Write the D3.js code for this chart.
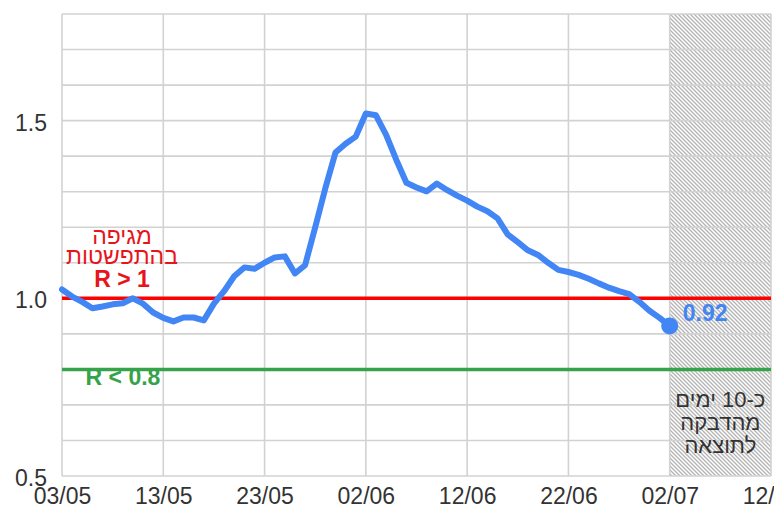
<!DOCTYPE html>
<html>
<head>
<meta charset="utf-8">
<script src="https://cdn.jsdelivr.net/npm/d3@7"></script>
<style>
  body { margin: 0; background: #fff; }
  svg { display: block; font-family: "Liberation Sans", Arial, sans-serif; }
</style>
</head>
<body>
<div id="chart"></div>
<script>
// R values, one per day starting 03/05
var startDate = "03/05/2020"
var rValues = [
  1.025, 1.005, 0.99, 0.972, 0.977, 0.983, 0.986, 1.0, 0.985, 0.96,
  0.945, 0.935, 0.946, 0.946, 0.938, 0.985, 1.02, 1.062, 1.087, 1.083,
  1.1, 1.115, 1.118, 1.07, 1.093, 1.2, 1.31, 1.41, 1.435, 1.455,
  1.52, 1.515, 1.46, 1.39, 1.325, 1.312, 1.301, 1.323, 1.305, 1.289,
  1.275, 1.258, 1.245, 1.225, 1.18, 1.158, 1.135, 1.122, 1.1, 1.08,
  1.074, 1.066, 1.055, 1.042, 1.03, 1.02, 1.012, 0.99, 0.965, 0.945,
  0.922
]
var xTickLabels = ["03/05", "13/05", "23/05", "02/06", "12/06", "22/06", "02/07", "12/07"]
var yTickValues = [0.5, 1.0, 1.5]
var yGridValues = [0.5, 0.6, 0.7, 0.8, 0.9, 1.0, 1.1, 1.2, 1.3, 1.4, 1.5, 1.6, 1.7, 1.8]
var thresholdHigh = 1.0
var thresholdLow = 0.8
var delayStart = "02/07"
var delayEnd = "12/07"
var highLabel = ["מגיפה", "בהתפשטות", "R > 1"]
var lowLabel = "R < 0.8"
var delayLabel = ["כ-10 ימים", "מהדבקה", "לתוצאה"]

var width = 774
var height = 509
var m_left = 62, m_right = 771, m_top = 14, m_bottom = 476

var parseDay = d3.utcParse("%d/%m/%Y")
var start = parseDay(startDate)
var data = rValues.map((v, i) => ({ date: d3.utcDay.offset(start, i), r: v }))
var tickDates = xTickLabels.map((t) => parseDay(t + "/2020"))

var x = d3.scaleUtc()
    .domain([tickDates[0], tickDates[tickDates.length - 1]])
    .range([m_left, m_right])

var y = d3.scaleLinear()
    .domain([0.5, 1.8])
    .range([m_bottom, m_top])

const svg = d3.select("#chart")
    .append("svg")
    .attr("width", width)
    .attr("height", height)

// hatch pattern for the delay area
var defs = svg.append("defs")
var pat = defs.append("pattern")
    .attr("id", "hatch")
    .attr("patternUnits", "userSpaceOnUse")
    .attr("width", 4)
    .attr("height", 4)
pat.append("rect").attr("width", 4).attr("height", 4).attr("fill", "#fff")
pat.append("path")
    .attr("d", "M-1,3 l2,2 M0,0 l4,4 M3,-1 l2,2")
    .attr("stroke", "#b3b3b3")
    .attr("stroke-width", 1.3)

var d0 = parseDay(delayStart + "/2020"), d1 = parseDay(delayEnd + "/2020")
svg.append("rect")
    .attr("x", x(d0))
    .attr("y", y(1.8))
    .attr("width", x(d1) - x(d0))
    .attr("height", y(0.5) - y(1.8))
    .attr("fill", "url(#hatch)")

// grid
svg.append("g")
    .selectAll("line")
    .data(yGridValues)
    .join("line")
    .attr("x1", m_left)
    .attr("x2", m_right)
    .attr("y1", (d) => y(d))
    .attr("y2", (d) => y(d))
    .attr("stroke", "#d2d2d2")
    .attr("stroke-width", 1.6)

svg.append("g")
    .selectAll("line")
    .data(tickDates)
    .join("line")
    .attr("x1", (d) => x(d))
    .attr("x2", (d) => x(d))
    .attr("y1", m_top)
    .attr("y2", m_bottom)
    .attr("stroke", "#d2d2d2")
    .attr("stroke-width", 1.6)

// axes labels (no domain / ticks, just text)
var x_axis = d3.axisBottom(x)
    .tickValues(tickDates)
    .tickFormat(d3.utcFormat("%d/%m"))
    .tickSize(0)
    .tickPadding(12)

var gx = svg.append("g")
    .attr("transform", "translate(0," + m_bottom + ")")
    .call(x_axis)
gx.select(".domain").remove()
gx.selectAll("text")
    .attr("font-size", 23)
    .attr("font-family", "Liberation Sans, Arial, sans-serif")
    .attr("fill", "#333")

var y_axis = d3.axisLeft(y)
    .tickValues(yTickValues)
    .tickFormat(d3.format(".1f"))
    .tickSize(0)
    .tickPadding(15)

var gy = svg.append("g")
    .attr("transform", "translate(" + m_left + ",0)")
    .call(y_axis)
gy.select(".domain").remove()
gy.selectAll("text")
    .attr("font-size", 23)
    .attr("font-family", "Liberation Sans, Arial, sans-serif")
    .attr("fill", "#333")
    .attr("dy", "0.42em")

// threshold labels
var hl = svg.append("g").attr("text-anchor", "middle").attr("fill", "#e8141b")
hl.append("text").attr("x", 122).attr("y", 244).attr("font-size", 23).text(highLabel[0])
hl.append("text").attr("x", 122).attr("y", 264).attr("font-size", 23).text(highLabel[1])
hl.append("text").attr("x", 122).attr("y", 287).attr("font-size", 23).attr("font-weight", "bold").text(highLabel[2])

svg.append("text")
    .attr("x", 123)
    .attr("y", 385)
    .attr("text-anchor", "middle")
    .attr("font-size", 23)
    .attr("font-weight", "bold")
    .attr("fill", "#34a34a")
    .text(lowLabel)

// threshold lines
svg.append("line")
    .attr("x1", m_left).attr("x2", m_right)
    .attr("y1", y(thresholdHigh)).attr("y2", y(thresholdHigh))
    .attr("stroke", "#ff0000")
    .attr("stroke-width", 3.5)

svg.append("line")
    .attr("x1", m_left).attr("x2", m_right)
    .attr("y1", y(thresholdLow)).attr("y2", y(thresholdLow))
    .attr("stroke", "#34a34a")
    .attr("stroke-width", 3.5)

// R line
svg.append("path")
    .datum(data)
    .attr("fill", "none")
    .attr("stroke", "#4285f4")
    .attr("stroke-width", 6)
    .attr("stroke-linejoin", "round")
    .attr("stroke-linecap", "round")
    .attr("d", d3.line()
        .x((d) => x(d.date))
        .y((d) => y(d.r)))

var last = data[data.length - 1]
svg.append("circle")
    .attr("cx", x(last.date))
    .attr("cy", y(last.r))
    .attr("r", 8.5)
    .attr("fill", "#4285f4")

svg.append("text")
    .attr("x", x(last.date) + 13)
    .attr("y", y(last.r) - 5)
    .attr("font-size", 23)
    .attr("font-weight", "bold")
    .attr("fill", "#4285f4")
    .text(d3.format(".2f")(last.r))

// delay note
var dl = svg.append("g").attr("text-anchor", "middle").attr("fill", "#333").attr("font-size", 22)
var cx = (x(d0) + x(d1)) / 2
delayLabel.forEach((t, i) => {
    dl.append("text")
        .attr("x", cx)
        .attr("y", 407 + i * 23)
        .text(t)
})
</script>
</body>
</html>
